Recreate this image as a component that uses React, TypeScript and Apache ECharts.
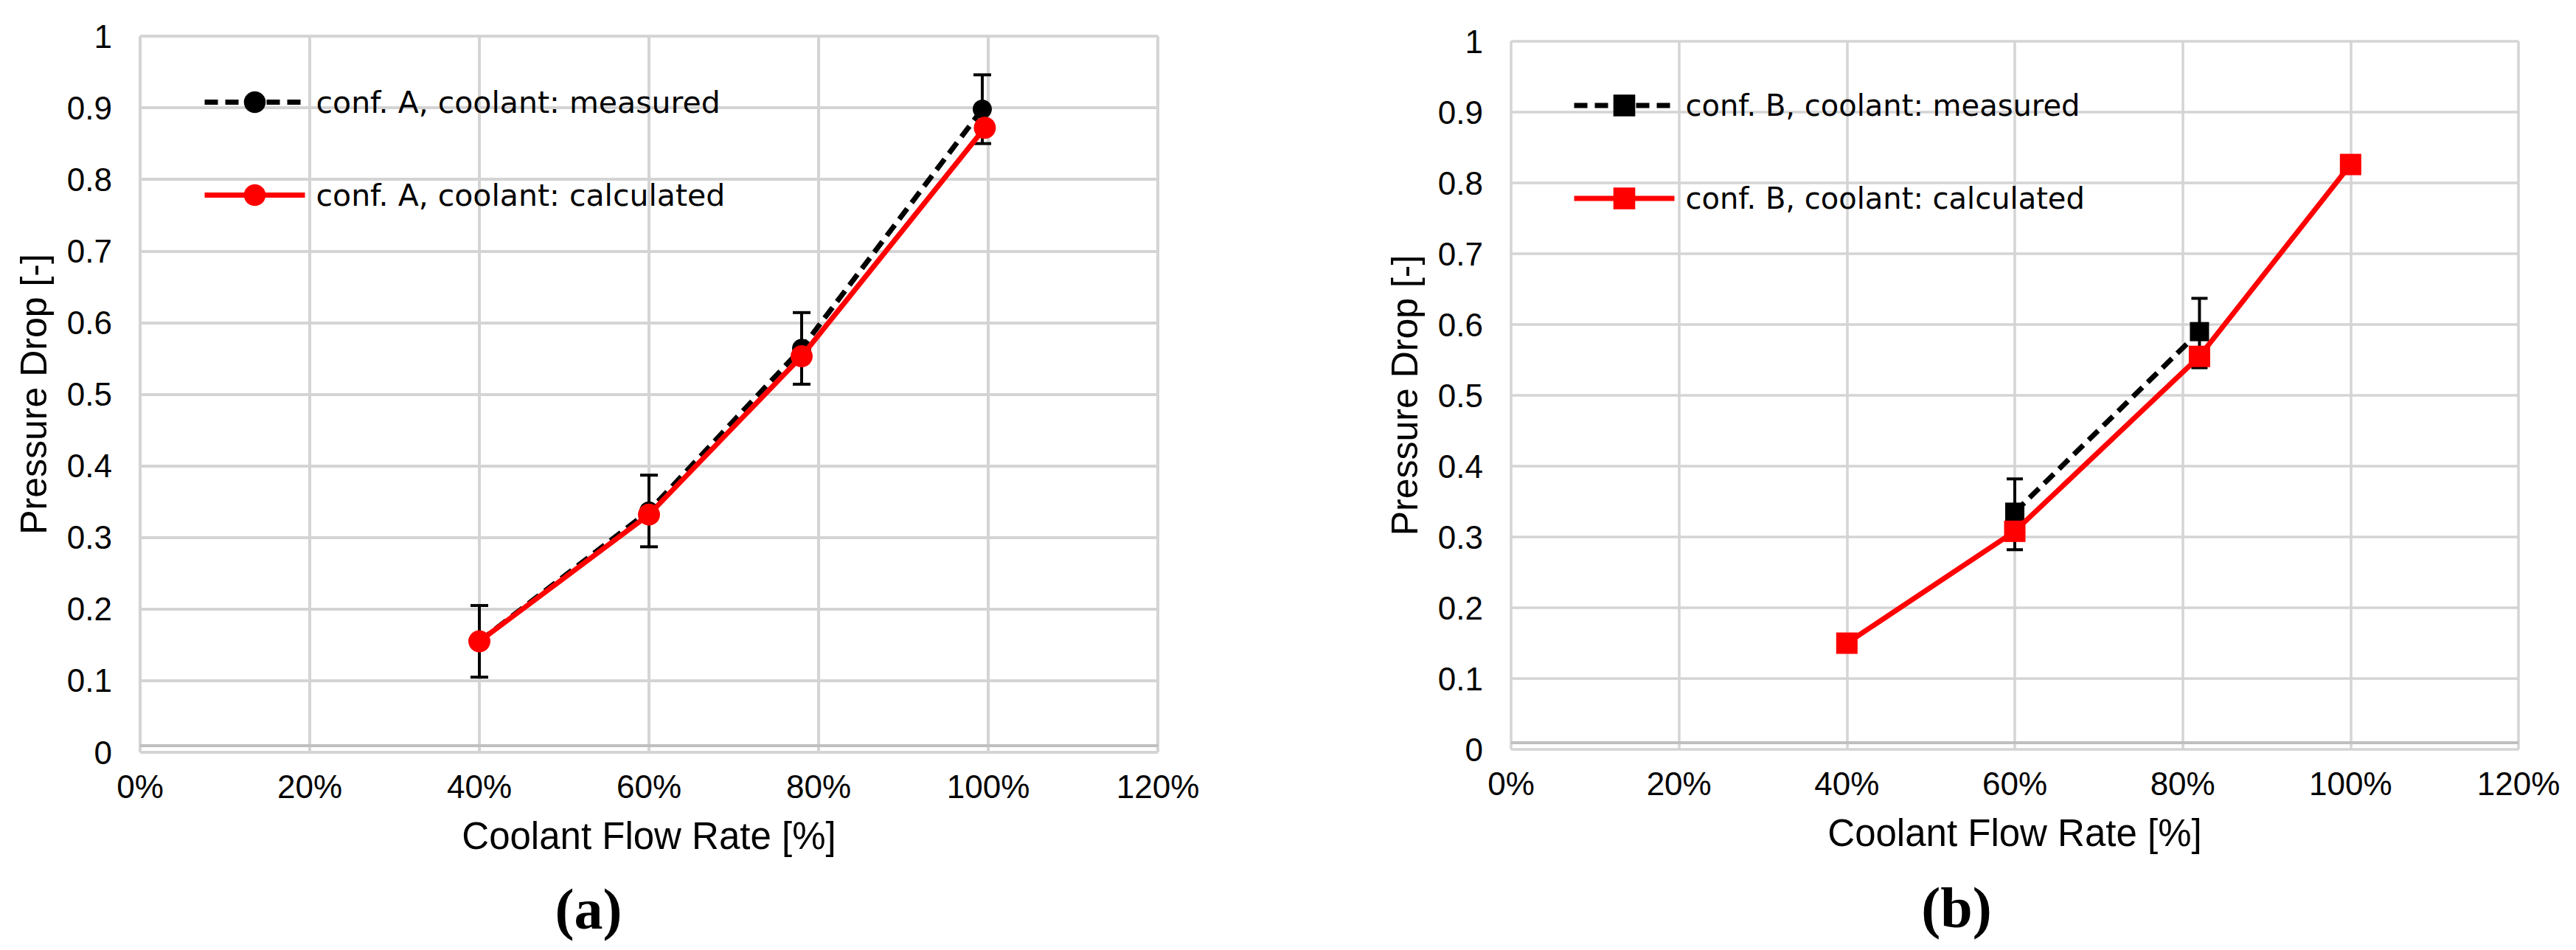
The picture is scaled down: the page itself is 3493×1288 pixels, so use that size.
import React, { useEffect, useRef } from 'react';
import * as echarts from 'echarts';

// ---------- data ----------
const xMin = 0;
const xMax = 120;
const xStep = 20;
const yMin = 0;
const yMax = 1;
const yStep = 0.1;

const panelLabels = ['(a)', '(b)'];
const xAxisTitle = 'Coolant Flow Rate [%]';
const yAxisTitle = 'Pressure Drop [-]';

const aMeasuredName = 'conf. A, coolant: measured';
const aCalcName = 'conf. A, coolant: calculated';
const bMeasuredName = 'conf. B, coolant: measured';
const bCalcName = 'conf. B, coolant: calculated';

const aMeasuredX = [40, 60, 78, 99.3];
const aMeasuredY = [0.155, 0.337, 0.564, 0.898];
const aMeasuredLow = [0.105, 0.287, 0.514, 0.85];
const aMeasuredHigh = [0.205, 0.387, 0.614, 0.946];
const aCalcX = [40, 60, 78, 99.6];
const aCalcY = [0.155, 0.332, 0.553, 0.872];

const bMeasuredX = [60, 82];
const bMeasuredY = [0.335, 0.59];
const bMeasuredLow = [0.282, 0.539];
const bMeasuredHigh = [0.382, 0.637];
const bCalcX = [40, 60, 82, 100];
const bCalcY = [0.15, 0.308, 0.555, 0.826];

const axisLineValue = 0.01;

// ---------- helpers ----------
const zip = (xs: number[], ys: number[]) => xs.map((x, i) => [x, ys[i]]);
const zip3 = (xs: number[], lo: number[], hi: number[]) => xs.map((x, i) => [x, lo[i], hi[i]]);

const TICK_FONT = 'Liberation Sans, Arial, sans-serif';
const LEGEND_FONT = 'DejaVu Sans, Liberation Sans, sans-serif';
const GRID_COLOR = '#d4d4d4';

function makeAxes(idx: number, gridW: number) {
  const xAxis = {
    type: 'value',
    gridIndex: idx,
    min: xMin,
    max: xMax,
    interval: xStep,
    axisLine: { show: false },
    axisTick: { show: false },
    axisLabel: {
      formatter: '{value}%',
      fontFamily: TICK_FONT,
      fontSize: 44,
      color: '#000',
      margin: 24,
    },
    splitLine: { show: true, lineStyle: { color: GRID_COLOR, width: gridW } },
    name: xAxisTitle,
    nameLocation: 'middle',
    nameGap: 88,
    nameTextStyle: { fontFamily: TICK_FONT, fontSize: 51, color: '#000' },
  };
  const yAxis = {
    type: 'value',
    gridIndex: idx,
    min: yMin,
    max: yMax,
    interval: yStep,
    axisLine: { show: false },
    axisTick: { show: false },
    axisLabel: {
      fontFamily: TICK_FONT,
      fontSize: 44,
      color: '#000',
      margin: 38,
    },
    splitLine: { show: true, lineStyle: { color: GRID_COLOR, width: gridW } },
    name: yAxisTitle,
    nameLocation: 'middle',
    nameGap: 119,
    nameTextStyle: { fontFamily: TICK_FONT, fontSize: 50, color: '#000' },
  };
  return { xAxis, yAxis };
}

function errorBarSeries(idx: number, data: number[][], capHalf: number, lw: number) {
  return {
    type: 'custom',
    coordinateSystem: 'cartesian2d',
    xAxisIndex: idx,
    yAxisIndex: idx,
    z: 3,
    silent: true,
    data,
    encode: { x: 0, y: [1, 2] },
    renderItem: (params: any, api: any) => {
      const x = api.value(0);
      const lo = api.coord([x, api.value(1)]);
      const hi = api.coord([x, api.value(2)]);
      const style = { stroke: '#000', lineWidth: lw };
      return {
        type: 'group',
        children: [
          { type: 'line', shape: { x1: lo[0], y1: lo[1], x2: hi[0], y2: hi[1] }, style },
          { type: 'line', shape: { x1: lo[0] - capHalf, y1: lo[1], x2: lo[0] + capHalf, y2: lo[1] }, style },
          { type: 'line', shape: { x1: hi[0] - capHalf, y1: hi[1], x2: hi[0] + capHalf, y2: hi[1] }, style },
        ],
      };
    },
  };
}

function axisMarkLine() {
  return {
    silent: true,
    symbol: 'none',
    label: { show: false },
    lineStyle: { color: '#bfbfbf', width: 4, type: 'solid' },
    data: [{ yAxis: axisLineValue }],
  };
}

export default function App() {
  const ref = useRef<HTMLDivElement>(null);

  useEffect(() => {
    if (!ref.current) return;
    const chart = echarts.init(ref.current, undefined, { renderer: 'svg' });
    const a = makeAxes(0, 4);
    const b = makeAxes(1, 3.5);

    const option: any = {
      animation: false,
      backgroundColor: '#fff',
      grid: [
        { left: 190, top: 49, width: 1380, height: 971 },
        { left: 2049, top: 56, width: 1366, height: 960 },
      ],
      xAxis: [a.xAxis, b.xAxis],
      yAxis: [a.yAxis, b.yAxis],
      legend: [
        {
          orient: 'vertical',
          left: 269,
          top: 113,
          itemWidth: 136,
          itemHeight: 37,
          itemGap: 85,
          lineStyle: { width: 7 },
          textStyle: { fontFamily: LEGEND_FONT, fontSize: 41, color: '#000', lineHeight: 40, padding: [0, 0, 0, 10] },
          data: [aMeasuredName, aCalcName],
        },
        {
          orient: 'vertical',
          left: 2126,
          top: 118,
          itemWidth: 136,
          itemHeight: 37,
          itemGap: 86,
          lineStyle: { width: 7 },
          textStyle: { fontFamily: LEGEND_FONT, fontSize: 40, color: '#000', lineHeight: 40, padding: [0, 0, 0, 10] },
          data: [bMeasuredName, bCalcName],
        },
      ],
      graphic: [
        {
          type: 'text',
          x: 798,
          y: 1232,
          style: {
            text: panelLabels[0],
            font: 'bold 78px "Liberation Serif", "Times New Roman", serif',
            fill: '#000',
            align: 'center',
            verticalAlign: 'middle',
          },
        },
        {
          type: 'text',
          x: 2653,
          y: 1230,
          style: {
            text: panelLabels[1],
            font: 'bold 78px "Liberation Serif", "Times New Roman", serif',
            fill: '#000',
            align: 'center',
            verticalAlign: 'middle',
          },
        },
      ],
      series: [
        {
          name: aMeasuredName,
          type: 'line',
          xAxisIndex: 0,
          yAxisIndex: 0,
          z: 2,
          data: zip(aMeasuredX, aMeasuredY),
          symbol: 'circle',
          symbolSize: 26,
          color: '#000',
          itemStyle: { color: '#000' },
          lineStyle: { color: '#000', width: 7, type: [18, 10] },
          markLine: axisMarkLine(),
        },
        errorBarSeries(0, zip3(aMeasuredX, aMeasuredLow, aMeasuredHigh), 12, 4),
        {
          name: aCalcName,
          type: 'line',
          xAxisIndex: 0,
          yAxisIndex: 0,
          z: 4,
          data: zip(aCalcX, aCalcY),
          symbol: 'circle',
          symbolSize: 30,
          color: '#ff0000',
          itemStyle: { color: '#ff0000' },
          lineStyle: { color: '#ff0000', width: 7 },
        },
        {
          name: bMeasuredName,
          type: 'line',
          xAxisIndex: 1,
          yAxisIndex: 1,
          z: 2,
          data: zip(bMeasuredX, bMeasuredY),
          symbol: 'rect',
          symbolSize: 26,
          color: '#000',
          itemStyle: { color: '#000' },
          lineStyle: { color: '#000', width: 7, type: [18, 10] },
          markLine: axisMarkLine(),
        },
        errorBarSeries(1, zip3(bMeasuredX, bMeasuredLow, bMeasuredHigh), 11, 4),
        {
          name: bCalcName,
          type: 'line',
          xAxisIndex: 1,
          yAxisIndex: 1,
          z: 4,
          data: zip(bCalcX, bCalcY),
          symbol: 'rect',
          symbolSize: 29,
          color: '#ff0000',
          itemStyle: { color: '#ff0000' },
          lineStyle: { color: '#ff0000', width: 7 },
        },
      ],
    };
    chart.setOption(option);
    return () => chart.dispose();
  }, []);

  return (
    <div
      ref={ref}
      style={{ position: 'absolute', left: 0, top: 0, width: '3493px', height: '1288px', background: '#fff' }}
    />
  );
}
